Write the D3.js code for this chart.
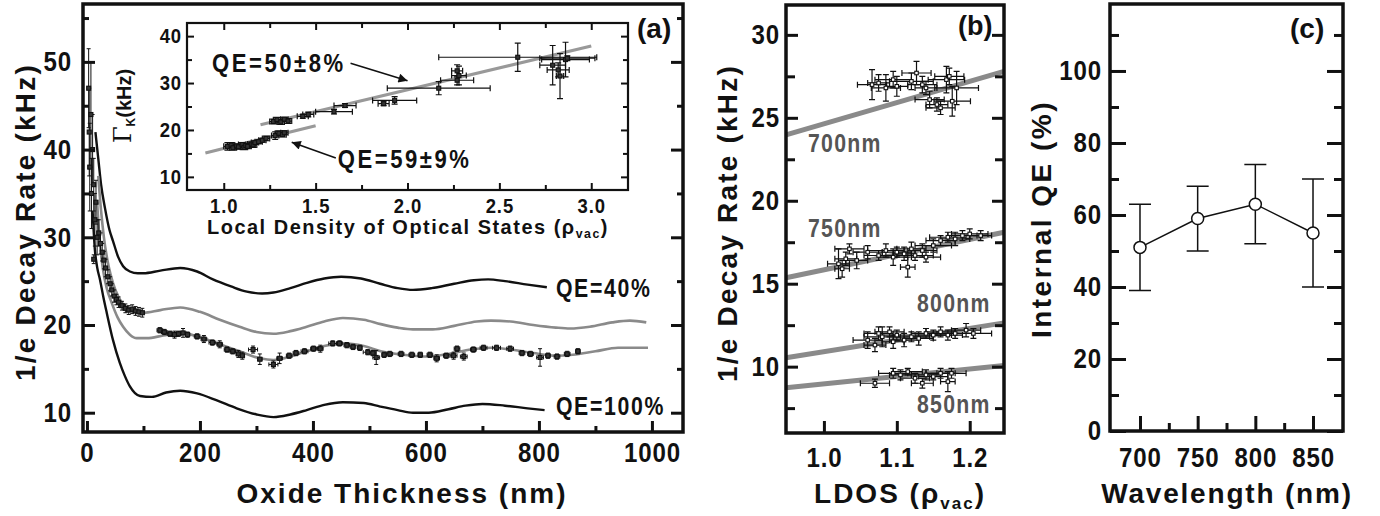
<!DOCTYPE html>
<html><head><meta charset="utf-8">
<script src="https://cdn.jsdelivr.net/npm/d3@7"></script>
<style>
body{margin:0;background:#fff;}
svg{display:block;background:#fff;}
.tick text{font-family:'Liberation Sans',Arial,sans-serif;font-weight:bold;fill:#111;}
.ttl{font-family:'Liberation Sans',Arial,sans-serif;font-weight:bold;fill:#111;}
.nar{font-family:'Liberation Sans',Arial,sans-serif;font-weight:bold;}
</style></head><body>
<svg id="chart" width="1380" height="516"></svg>
<script>
// ---------------- DATA ----------------
// Panel (a): oxide thickness (nm) vs 1/e decay rate (kHz)
const aXTicks = [0,200,400,600,800,1000];
const aXMinor = [100,300,500,700,900];
const aYTicks = [10,20,30,40,50];
const aYMinor = [15,25,35,45,55];
const qe40Curve = [[15,42],[20,39],[25,36],[32,33.3],[40,30.8],[46,29.6],[55,27.8],[64,26.7],[76,26.1],[90,25.9],[100,25.9],[130,26.2],[165,26.5],[195,26.1],[223,25.2],[255,24.4],[283,23.8],[310,23.6],[330,23.7],[360,24.2],[389,24.8],[420,25.3],[450,25.5],[485,25.3],[519,24.7],[550,24.2],[577,24.0],[610,24.2],[650,24.7],[685,25.1],[710,25.2],[740,25.0],[780,24.6],[814,24.3]];
const grayUpperCurve = [[20,37],[25,33],[30,30],[38,26.8],[46,24.8],[55,23.3],[65,22.3],[80,21.6],[99,21.4],[130,21.7],[165,22.0],[200,21.5],[235,20.6],[270,19.8],[300,19.2],[330,19.0],[360,19.3],[389,19.8],[420,20.4],[453,20.8],[490,20.6],[520,20.1],[550,19.7],[577,19.5],[612,19.5],[650,19.9],[690,20.4],[715,20.5],[750,20.4],[790,20.0],[830,19.7],[855,19.6],[890,19.8],[930,20.3],[961,20.5],[990,20.3]];
const grayLowerCurve = [[18,34],[22,30],[28,26.5],[35,24.2],[44,22.5],[54,20.9],[64,19.8],[76,18.9],[88,18.5],[106,18.5],[135,18.8],[165,19.1],[200,18.6],[235,17.8],[270,17.0],[306,16.2],[330,16.0],[360,16.4],[389,17.0],[420,17.6],[453,17.9],[490,17.6],[520,17.0],[560,16.6],[600,16.4],[640,16.7],[680,17.2],[715,17.4],[750,17.2],[790,16.8],[830,16.5],[860,16.6],[900,17.0],[940,17.4],[993,17.4]];
const qe100Curve = [[10,33],[14,28.6],[18,26.6],[23,25.2],[29,23.2],[35,21.4],[46,18.3],[58,15.7],[67,14.2],[76,13.0],[94,11.9],[115,11.8],[140,12.3],[165,12.5],[195,12.2],[230,11.4],[265,10.5],[300,9.8],[330,9.5],[360,9.8],[389,10.3],[420,10.9],[453,11.2],[490,11.1],[519,10.7],[550,10.3],[577,10.0],[605,10.0],[640,10.4],[670,10.8],[700,11.0],[740,10.8],[780,10.5],[810,10.3]];
// [thickness, rate, xErr, yErr]
const aData = [[3,47,2,4.5],[4,42,2,5],[5,38,3,5],[7,44,2,6],[8,35,3,4],[10,40,3,4],[12,36,3,3],[12,27.5,2,0.5],[14,32,3,3],[16,34,3,2.5],[18,30,3,2],[21,30.5,3,1.5],[24,29.3,3,1.2],[27,28.3,3,1],[30,27.4,3,1],[33,26.5,3,1],[37,25.5,3,0.8],[41,24.7,3,0.8],[44,24,3,0.7],[48,23.3,3,0.7],[52,22.9,3,0.6],[56,22.6,3,0.6],[62,22.2,4,0.5],[68,21.9,4,0.5],[74,21.7,4,0.5],[80,21.8,4,0.5],[86,21.6,4,0.5],[92,21.5,4,0.5],[98,21.4,4,0.5],
[129,19.4,5,0.3],[137,19.2,5,0.3],[147,19.0,5,0.3],[155,18.9,5,0.4],[162,19.0,5,0.3],[170,19.1,5,0.5],[178,18.9,4,0.3],[195,18.7,5,0.3],[207,18.4,5,0.4],[222,18.0,6,0.3],[235,17.8,5,0.4],[248,17.2,5,0.3],[258,17.0,5,0.3],[268,16.7,4,0.4],[275,16.5,4,0.4],[294,17.2,8,0.4],[306,16.1,4,0.6],[330,15.5,8,0.4],[341,16.2,5,0.6],[358,16.5,5,0.3],[370,16.8,5,0.3],[385,17.0,6,0.3],[401,17.3,5,0.3],[413,17.3,5,0.4],[435,17.9,7,0.3],[447,17.9,5,0.3],[460,17.7,5,0.3],[471,17.5,5,0.3],[483,17.4,4,0.3],[497,16.9,8,0.3],[506,16.8,5,0.3],[512,16.3,6,0.8],[526,16.6,4,0.3],[536,16.7,5,0.3],[556,16.7,5,0.3],[575,16.6,5,0.3],[590,16.6,4,0.3],[607,16.6,5,0.3],[619,16.2,5,0.4],[636,16.5,5,0.3],[649,16.5,6,0.4],[655,17.3,5,0.3],[667,16.4,6,0.4],[684,17.2,5,0.3],[702,17.4,6,0.3],[725,17.4,7,0.3],[749,17.3,6,0.3],[770,16.8,5,0.3],[785,16.7,5,0.3],[802,16.3,6,1.0],[816,16.5,4,0.3],[832,16.4,5,0.3],[850,16.7,5,0.3],[869,17.0,4,0.3]];

// Inset: LDOS vs Gamma_K
const iXTicks = [1.0,1.5,2.0,2.5,3.0];
const iXMinor = [1.25,1.75,2.25,2.75];
const iYTicks = [10,20,30,40];
const iYMinor = [15,25,35];
const iFit50 = [[1.2,21.1],[3.0,37.9]];
const iFit59 = [[0.9,15.1],[1.5,20.9]];
const iData = [[1.02,16.5,0.02,0.8],[1.04,16.8,0.02,0.5],[1.05,16.2,0.02,0.5],[1.07,16.6,0.02,0.4],[1.08,16.4,0.02,0.5],[1.10,16.9,0.02,0.4],[1.11,16.3,0.02,0.5],[1.12,16.7,0.02,0.4],[1.13,16.5,0.02,0.5],[1.15,17.0,0.02,0.4],[1.16,16.8,0.02,0.5],[1.17,17.3,0.02,0.4],[1.19,17.5,0.02,0.4],[1.21,17.8,0.02,0.4],[1.23,18.2,0.02,0.5],
[1.28,18.8,0.02,0.8],[1.30,19.3,0.02,0.5],[1.32,19.0,0.02,0.5],[1.33,19.4,0.02,0.4],
[1.27,21.8,0.02,0.5],[1.29,22.2,0.02,0.5],[1.31,21.7,0.02,0.5],[1.33,22.3,0.02,0.4],[1.35,21.9,0.02,0.5],
[1.43,22.9,0.03,0.4],[1.46,23.3,0.03,0.5],[1.60,23.9,0.10,0.5],[1.66,25.2,0.06,0.4],
[1.87,25.6,0.03,0.4],[1.93,26.3,0.12,0.8],[2.17,28.9,0.28,1.4],[2.27,30.6,0.09,1.0],[2.28,31.6,0.04,2.0],[2.27,32.6,0.03,1.3],
[2.60,35.5,0.43,3.0],[2.79,33.8,0.07,4.2],[2.83,31.5,0.02,4.8],[2.86,35.0,0.13,3.7],[2.82,32.8,0.06,1.5],[2.87,35.3,0.15,0.5]];

// Panel (b): LDOS vs decay rate for 4 wavelengths
const bXTicks = [1.0,1.1,1.2];
const bYTicks = [10,15,20,25,30];
const bYMinor = [7.5,12.5,17.5,22.5,27.5];
const bFits = [
  {label:"700nm", pts:[[0.948,23.97],[1.247,27.8]]},
  {label:"750nm", pts:[[0.948,15.36],[1.247,18.1]]},
  {label:"800nm", pts:[[0.948,10.54],[1.247,12.64]]},
  {label:"850nm", pts:[[0.948,8.73],[1.247,10.07]]}
];
const b700 = [[1.066,27.0,0.02,0.9],[1.075,27.1,0.015,0.5],[1.085,26.8,0.02,0.8],[1.095,27.3,0.025,0.5],[1.100,26.9,0.015,0.6],[1.120,27.2,0.03,0.5],[1.127,27.7,0.02,0.7],[1.135,27.0,0.02,0.5],[1.140,26.8,0.015,0.4],[1.145,26.1,0.02,0.5],[1.155,25.8,0.015,0.4],[1.160,25.6,0.02,0.4],[1.168,27.3,0.025,0.8],[1.172,27.5,0.02,0.5],[1.176,26.0,0.025,0.9],[1.182,26.8,0.03,1.0]];
const b750 = [[1.020,16.2,0.015,0.9],[1.025,15.9,0.01,0.5],[1.030,16.5,0.015,0.4],[1.035,17.1,0.02,0.3],[1.045,16.4,0.015,0.5],[1.060,16.9,0.02,0.4],[1.075,16.7,0.02,0.3],[1.085,17.0,0.025,0.4],[1.095,16.6,0.02,0.5],[1.100,16.9,0.02,0.3],[1.110,16.8,0.015,0.4],[1.115,16.0,0.01,0.6],[1.120,17.1,0.02,0.4],[1.125,16.7,0.025,0.3],[1.135,17.0,0.02,0.4],[1.140,16.6,0.02,0.3],[1.150,17.3,0.025,0.4],[1.160,17.6,0.02,0.3],[1.170,17.8,0.025,0.3],[1.180,17.7,0.02,0.4],[1.190,17.9,0.02,0.3],[1.200,18.0,0.025,0.3],[1.215,17.9,0.015,0.3]];
const b800 = [[1.060,11.6,0.02,0.5],[1.070,11.3,0.015,0.4],[1.075,12.0,0.02,0.4],[1.080,11.8,0.025,0.6],[1.090,12.1,0.02,0.3],[1.095,11.5,0.015,0.4],[1.100,11.9,0.02,0.3],[1.110,11.6,0.02,0.4],[1.120,11.8,0.025,0.3],[1.130,11.7,0.02,0.4],[1.140,12.0,0.02,0.3],[1.150,11.9,0.025,0.3],[1.160,12.1,0.02,0.3],[1.170,11.9,0.02,0.3],[1.180,12.0,0.025,0.3],[1.195,12.2,0.02,0.4],[1.205,12.0,0.025,0.3]];
const b850 = [[1.070,9.0,0.02,0.25],[1.095,9.6,0.02,0.3],[1.105,9.5,0.015,0.3],[1.115,9.7,0.02,0.2],[1.125,9.3,0.02,0.3],[1.135,9.0,0.015,0.3],[1.140,9.5,0.02,0.3],[1.150,9.4,0.02,0.2],[1.160,9.6,0.02,0.3],[1.170,9.1,0.01,0.6],[1.175,9.6,0.02,0.3]];

// Panel (c): wavelength vs internal QE
const cXTicks = [700,750,800,850];
const cXMinor = [725,775,825];
const cYTicks = [0,20,40,60,80,100];
const cYMinor = [10,30,50,70,90,110];
const cWave = [700,750,800,850];
const cQE = [51,59,63,55];
const cLow = [39,50,52,40];
const cHigh = [63,68,74,70];

// ---------------- DRAW ----------------
const svg = d3.select("#chart");
const GRAY = "#8a8a8a";

function axes(g, xs, ys, o) {
  const [x0,x1] = xs.range(), [yb,yt] = ys.range();
  const sx = o.sx || 1;
  const st = (sel, left) => {
    sel.select(".domain").remove();
    sel.selectAll(".tick line").attr("stroke","#111").attr("stroke-width",o.sw);
    const t = sel.selectAll(".tick text").attr("font-size",o.fs).attr("letter-spacing",o.ls||0)
      .attr("transform",`scale(${sx},1)`);
    if (left) t.attr("x", function(){ return (+this.getAttribute("x"))/sx; });
  };
  g.append("g").attr("transform",`translate(0,${yb})`)
    .call(d3.axisBottom(xs).tickValues(o.xMajor).tickSizeInner(-o.xMaj).tickSizeOuter(0).tickPadding(o.xPad).tickFormat(o.xFmt)).call(st,false);
  if (o.xMinor) g.append("g").attr("transform",`translate(0,${yb})`)
    .call(d3.axisBottom(xs).tickValues(o.xMinor).tickSizeInner(-o.xMin).tickSizeOuter(0).tickFormat("")).call(st,false);
  g.append("g").attr("transform",`translate(${x0},0)`)
    .call(d3.axisLeft(ys).tickValues(o.yMajor).tickSizeInner(-o.yMaj).tickSizeOuter(0).tickPadding(o.yPad).tickFormat(o.yFmt)).call(st,true);
  g.append("g").attr("transform",`translate(${x0},0)`)
    .call(d3.axisLeft(ys).tickValues(o.yMinor||[]).tickSizeInner(-o.yMin).tickSizeOuter(0).tickFormat("")).call(st,false);
  g.append("g").attr("transform",`translate(${x1},0)`)
    .call(d3.axisRight(ys).tickValues(o.yMajor).tickSizeInner(-o.yMaj).tickSizeOuter(0).tickFormat("")).call(st,false);
  g.append("g").attr("transform",`translate(${x1},0)`)
    .call(d3.axisRight(ys).tickValues(o.yMinor||[]).tickSizeInner(-o.yMin).tickSizeOuter(0).tickFormat("")).call(st,false);
  if (o.top) {
    g.append("g").attr("transform",`translate(0,${yt})`)
      .call(d3.axisTop(xs).tickValues(o.xMajor).tickSizeInner(-o.xMaj).tickSizeOuter(0).tickFormat("")).call(st,false);
    g.append("g").attr("transform",`translate(0,${yt})`)
      .call(d3.axisTop(xs).tickValues(o.xMinor||[]).tickSizeInner(-o.xMin).tickSizeOuter(0).tickFormat("")).call(st,false);
  }
  g.append("rect").attr("x",x0).attr("y",yt).attr("width",x1-x0).attr("height",yb-yt)
    .attr("fill","none").attr("stroke","#111").attr("stroke-width",o.frame);
}

function errBars(g, data, xs, ys, cap, sw, ms, fill) {
  g.append("g").selectAll("path").data(data).enter().append("path")
    .attr("fill","none").attr("stroke","#111").attr("stroke-width",sw)
    .attr("d", d => {
      const x = xs(d[0]), y = ys(d[1]);
      let p = "";
      if (d[2] > 0) { const xl = xs(d[0]-d[2]), xr = xs(d[0]+d[2]);
        p += `M${xl},${y}H${xr}M${xl},${y-cap}V${y+cap}M${xr},${y-cap}V${y+cap}`; }
      if (d[3] > 0) { const yl = ys(d[1]-d[3]), yh = ys(d[1]+d[3]);
        p += `M${x},${yl}V${yh}M${x-cap},${yl}H${x+cap}M${x-cap},${yh}H${x+cap}`; }
      return p;
    });
  g.append("g").selectAll("rect").data(data).enter().append("rect")
    .attr("x", d => xs(d[0]) - ms/2).attr("y", d => ys(d[1]) - ms/2)
    .attr("width", ms).attr("height", ms)
    .attr("fill",fill).attr("stroke","#111").attr("stroke-width",1.1);
}

function narrow(g, text, x, y, fs, ls, fill, sx) {
  return g.append("text").attr("class","nar").attr("transform",`translate(${x},${y}) scale(${sx},1)`)
    .attr("font-size",fs).attr("letter-spacing",ls).attr("fill",fill).text(text);
}

function rotTitle(g, text, x, y, fs, ls) {
  g.append("text").attr("class","ttl").attr("transform",`translate(${x},${y}) rotate(-90)`)
    .attr("text-anchor","middle").attr("font-size",fs).attr("letter-spacing",ls).text(text);
}

// ---- Panel (a)
const xA = d3.scaleLinear([-7,1055],[83,683]);
const yA = d3.scaleLinear([7.8,56.6],[432,4]);
const gA = svg.append("g");
const line = (xs, ys) => d3.line().x(d => xs(d[0])).y(d => ys(d[1])).curve(d3.curveMonotoneX);
gA.append("path").datum(qe40Curve).attr("d", line(xA,yA)).attr("fill","none").attr("stroke","#111").attr("stroke-width",2.4);
gA.append("path").datum(grayUpperCurve).attr("d", line(xA,yA)).attr("fill","none").attr("stroke",GRAY).attr("stroke-width",2.6);
gA.append("path").datum(grayLowerCurve).attr("d", line(xA,yA)).attr("fill","none").attr("stroke",GRAY).attr("stroke-width",2.6);
gA.append("path").datum(qe100Curve).attr("d", line(xA,yA)).attr("fill","none").attr("stroke","#111").attr("stroke-width",2.4);
errBars(gA, aData, xA, yA, 2, 1, 4, "#333");
narrow(gA, "QE=40%", xA(830), 297, 25, 2, "#111", 0.85);
narrow(gA, "QE=100%", xA(830), 415, 25, 2, "#111", 0.85);

// Inset
const xI = d3.scaleLinear([0.8,3.2],[187,628]);
const yI = d3.scaleLinear([7.2,42.8],[190,23]);
const gI = svg.append("g");
gI.append("rect").attr("x",187).attr("y",23).attr("width",441).attr("height",167).attr("fill","#fff");
gI.append("path").datum(iFit50).attr("d", d3.line().x(d=>xI(d[0])).y(d=>yI(d[1]))).attr("stroke","#999").attr("stroke-width",3.2).attr("fill","none");
gI.append("path").datum(iFit59).attr("d", d3.line().x(d=>xI(d[0])).y(d=>yI(d[1]))).attr("stroke","#999").attr("stroke-width",3.2).attr("fill","none");
errBars(gI, iData, xI, yI, 3, 1.2, 4, "#333");
axes(gI, xI, yI, {xMajor:iXTicks, xMinor:iXMinor, yMajor:iYTicks, yMinor:iYMinor, xMaj:7, xMin:5, yMaj:7, yMin:5,
  xPad:8, yPad:5, xFmt:d3.format(".1f"), yFmt:d3.format("d"), sw:2, fs:21, ls:1, frame:2.2, top:true, sx:0.88});
svg.append("defs").append("marker").attr("id","arr").attr("viewBox","0 0 10 10").attr("refX",10).attr("refY",5)
  .attr("markerWidth",14).attr("markerHeight",9).attr("markerUnits","userSpaceOnUse").attr("orient","auto")
  .append("path").attr("d","M0,0L10,5L0,10Z").attr("fill","#111");
gI.append("line").attr("x1",xI(1.69)).attr("y1",yI(34.2)).attr("x2",xI(2.0)).attr("y2",yI(30.5)).attr("stroke","#111").attr("stroke-width",1.6).attr("marker-end","url(#arr)");
gI.append("line").attr("x1",xI(1.61)).attr("y1",yI(14.0)).attr("x2",xI(1.37)).attr("y2",yI(17.4)).attr("stroke","#111").attr("stroke-width",1.6).attr("marker-end","url(#arr)");
narrow(gI, "QE=50±8%", xI(0.936), yI(32.4), 26, 3, "#111", 0.85);
narrow(gI, "QE=59±9%", xI(1.62), yI(11.9), 26, 3, "#111", 0.85);
const it = gI.append("text").attr("class","ttl").attr("transform","translate(408,234) scale(0.95,1)").attr("text-anchor","middle").attr("font-size",21).attr("letter-spacing",1.6);
it.append("tspan").text("Local Density of Optical States (ρ");
it.append("tspan").attr("font-size",13).attr("dy",4).text("vac");
it.append("tspan").attr("dy",-4).text(")");
const iy = gI.append("text").attr("class","ttl").attr("transform",`translate(131,106) rotate(-90)`).attr("text-anchor","middle").attr("font-size",20);
iy.append("tspan").attr("font-family","'DejaVu Serif',serif").attr("font-weight","normal").attr("font-size",24).text("Γ");
iy.append("tspan").attr("font-size",12).attr("dy",4).text("K");
iy.append("tspan").attr("dy",-4).text("(kHz)");

axes(gA, xA, yA, {xMajor:aXTicks, xMinor:aXMinor, yMajor:aYTicks, yMinor:aYMinor, xMaj:11, xMin:6, yMaj:12, yMin:6,
  xPad:10, yPad:11, xFmt:d3.format("d"), yFmt:d3.format("d"), sw:3, fs:28, ls:1, frame:3.5, sx:0.86});
gA.append("text").attr("class","ttl").attr("x",637).attr("y",38).attr("font-size",28).text("(a)");
gA.append("text").attr("class","ttl").attr("x",402).attr("y",503).attr("text-anchor","middle").attr("font-size",28).attr("letter-spacing",2).text("Oxide Thickness (nm)");
rotTitle(gA, "1/e Decay Rate (kHz)", 35, 222, 28, 2.2);

// ---- Panel (b)
const xB = d3.scaleLinear([0.948,1.247],[786,1004]);
const yB = d3.scaleLinear([6,31.8],[433,5]);
const gB = svg.append("g");
bFits.forEach(f => gB.append("path").datum(f.pts).attr("d", d3.line().x(d=>xB(d[0])).y(d=>yB(d[1]))).attr("stroke",GRAY).attr("stroke-width",5).attr("fill","none"));
[b700,b750,b800,b850].forEach(s => errBars(gB, s, xB, yB, 3, 1.2, 3.5, "#fff"));
const bLab = [[808,152],[808,237],[917,312],[917,413]];
bFits.forEach((f,i) => narrow(gB, f.label, bLab[i][0], bLab[i][1], 25, 1.5, "#555", 0.85));
axes(gB, xB, yB, {xMajor:bXTicks, xMinor:null, yMajor:bYTicks, yMinor:bYMinor, xMaj:12, xMin:0, yMaj:12, yMin:9,
  xPad:14, yPad:6, xFmt:d3.format(".1f"), yFmt:d3.format("d"), sw:3, fs:28, ls:1, frame:3.5, sx:0.86});
gB.append("text").attr("class","ttl").attr("x",958).attr("y",35).attr("font-size",27).text("(b)");
const bt = gB.append("text").attr("class","ttl").attr("x",900).attr("y",503).attr("text-anchor","middle").attr("font-size",28).attr("letter-spacing",2);
bt.append("tspan").text("LDOS (ρ");
bt.append("tspan").attr("font-size",17).attr("dy",6).text("vac");
bt.append("tspan").attr("dy",-6).text(")");
rotTitle(gB, "1/e Decay Rate (kHz)", 737, 223, 28, 2.2);

// ---- Panel (c)
const xC = d3.scaleLinear([674,876],[1110,1343]);
const yC = d3.scaleLinear([0,118.6],[431,4]);
const gC = svg.append("g");
const cPts = cWave.map((w,i) => ({w, q:cQE[i], lo:cLow[i], hi:cHigh[i]}));
gC.append("path").datum(cPts).attr("d", d3.line().x(d=>xC(d.w)).y(d=>yC(d.q))).attr("fill","none").attr("stroke","#111").attr("stroke-width",1.5);
gC.append("g").selectAll("path").data(cPts).enter().append("path").attr("fill","none").attr("stroke","#111").attr("stroke-width",1.5)
  .attr("d", d => { const x = xC(d.w), c = 11; return `M${x},${yC(d.lo)}V${yC(d.hi)}M${x-c},${yC(d.lo)}H${x+c}M${x-c},${yC(d.hi)}H${x+c}`; });
gC.append("g").selectAll("circle").data(cPts).enter().append("circle").attr("cx",d=>xC(d.w)).attr("cy",d=>yC(d.q)).attr("r",6)
  .attr("fill","#fff").attr("stroke","#111").attr("stroke-width",1.5);
axes(gC, xC, yC, {xMajor:cXTicks, xMinor:cXMinor, yMajor:cYTicks, yMinor:cYMinor, xMaj:15, xMin:8, yMaj:16, yMin:9,
  xPad:16, yPad:8, xFmt:d3.format("d"), yFmt:d3.format("d"), sw:3, fs:28, ls:1, frame:3.5, sx:0.86});
gC.append("text").attr("class","ttl").attr("x",1290).attr("y",38).attr("font-size",28).text("(c)");
gC.append("text").attr("class","ttl").attr("x",1227).attr("y",503).attr("text-anchor","middle").attr("font-size",28).attr("letter-spacing",1.8).text("Wavelength (nm)");
rotTitle(gC, "Internal QE (%)", 1051, 219, 28, 2.5);
</script></body></html>
